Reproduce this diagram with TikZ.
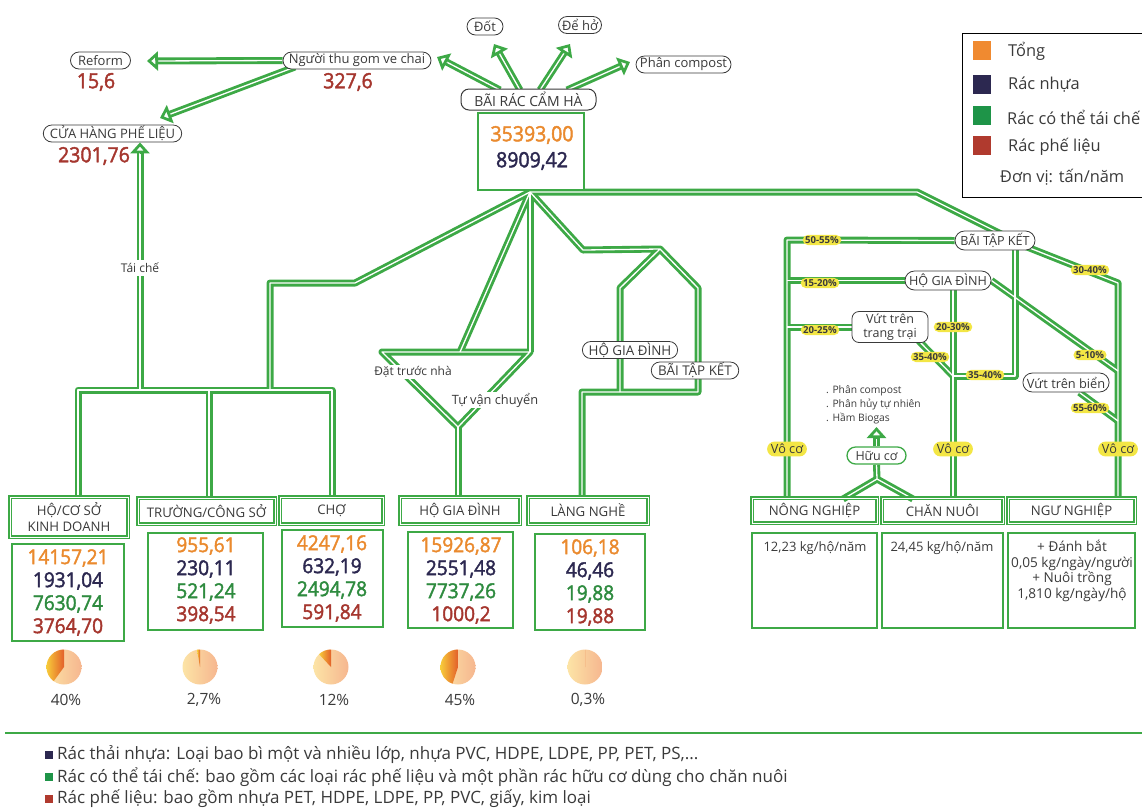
\documentclass[tikz,border=0pt]{standalone}
\usepackage{fontspec}
\setmainfont{Open Sans}
\newfontfamily\numfont{Open Sans}[FakeStretch=0.93,FakeBold=2]
\usetikzlibrary{arrows.meta,shapes.misc,calc}
\pgfdeclarelayer{bg}
\pgfsetlayers{bg,main}
\definecolor{pgreen}{HTML}{3DA946}
\definecolor{porange}{HTML}{EA8A2E}
\definecolor{pnavy}{HTML}{2C2850}
\definecolor{pgtext}{HTML}{2E8B3F}
\definecolor{pred}{HTML}{A5362E}
\definecolor{pyellow}{HTML}{F3E645}
\definecolor{ptext}{HTML}{3A3A3A}
\definecolor{pieL}{HTML}{FCE4A6}
\definecolor{pieR}{HTML}{F6B68F}
\definecolor{wedL}{HTML}{F7CB3A}
\definecolor{wedR}{HTML}{E3602A}
\definecolor{lgorange}{HTML}{F08A30}
\definecolor{lggreen}{HTML}{1E9448}
\definecolor{lgred}{HTML}{B03A2E}
\newcommand\ahead[2]{\draw[headtip] ($(#2)!12pt!(#1)$) -- (#2);}
\newcommand\pieslice[6]{%
  \shade[left color=pieL,right color=pieR] (#2,#3) circle[radius=17.5pt];
  \shade[left color=wedL,right color=wedR] (#2,#3) -- ++(0,-17.5) arc[start angle=-90,end angle={-90-#4},radius=17.5] -- cycle;
  \node[pctxt] (#1) at (#5,{#3+33}) {#6};}
\newcommand\numstack[7]{%
  \node[num,text=porange] (#1a) at (#2,#3) {#4};
  \node[num,text=pnavy] (#1b) at (#2,{#3+23}) {#5};
  \node[num,text=pgtext] (#1c) at (#2,{#3+46}) {#6};
  \node[num,text=pred] (#1d) at (#2,{#3+69}) {#7};}
\newcommand\pipenet[1]{%
  \draw[#1] (nguoi.west) -- ($(tReform)!8pt!(nguoi.west)$);
  \draw[#1] (sN2) -- ($(tCua)!8pt!(sN2)$);
  \draw[#1] (bt) -- ($(tCua2)!8pt!(bt)$);
  \draw[#1] (sB1) -- ($(tNguoi)!8pt!(sB1)$);
  \draw[#1] (sB2) -- ($(tDot)!8pt!(sB2)$);
  \draw[#1] (sB3) -- ($(tDeho)!8pt!(sB3)$);
  \draw[#1] (sB4) -- ($(tComp)!8pt!(sB4)$);
  \draw[#1] (apex) -- (fl1) -- (fl2) -- (fl3);
  \draw[#1] (b1 |- hcs.north) -- (b1) -- (b3) -- (b3 |- cho.north);
  \draw[#1] (b2) -- (b2 |- tcs.north);
  \draw[#1] (apex) -- (tq);
  \draw[#1] (apex) -- (tr);
  \draw[#1] (tl) -- (tr) -- (tb) -- cycle;
  \draw[#1] (tb) -- (tb |- hgd.north);
  \draw[#1] (apex) -- (hs1) -- (hpk) -- (hl1) -- (hl2);
  \draw[#1] (hpk) -- (hr1) -- (hr2) -- (hb0) -- (hb0 |- ln.north);
  \draw[#1] (apex) -- (rr0) -- (d1);
  \draw[#1] (d2) -- (r7) -- (r7 |- ng.north);
  \draw[#1] (btk2.west) -- (r1) -- (r1 |- nn.north);
  \draw[#1] (hgd2.west) -- (hgd2.west -| r1);
  \draw[#1] (tt.west) -- (tt.west -| r1);
  \draw[#1] (r2 |- hgd2.south) -- (r2 |- cn.north);
  \draw[#1] (tts) -- (r3);
  \draw[#1] (r4top) -- (r4) -- (r3);
  \draw[#1] (hgd2.east) -- (r5);
  \draw[#1] (vtb) -- (r6);
  \draw[#1] (hc.north) -- ($(tHc)!6pt!(hc.north)$);
  \draw[#1] (hc.south) -- (hcj) -- (hcl);
  \draw[#1] (hcj) -- (hcr);}
\begin{document}
\begin{tikzpicture}[x=1pt,y=-1pt,
 pipeout/.style={draw=pgreen,line width=7pt,line join=round},
 pipein/.style={draw=white,line width=1.3pt,line join=round},
 headtip/.style={draw=pgreen,line width=0.1pt,-{Triangle[fill=white,length=11pt,width=19pt,line width=3pt]}},
 rl/.style={rounded rectangle,draw=ptext,line width=0.8pt,fill=white,inner xsep=2pt,inner ysep=0pt,minimum height=17pt,text=ptext,font=\fontsize{13}{14}\selectfont},
 bigl/.style={rectangle,rounded corners=8pt,draw=ptext,line width=1pt,fill=white,minimum width=135pt,minimum height=21pt,inner sep=0pt,text=ptext,font=\fontsize{14}{15}\selectfont},
 val/.style={text=pred,inner sep=0pt,font=\numfont\fontsize{21}{22}\selectfont},
 num/.style={inner sep=0pt,font=\numfont\fontsize{20.5}{21}\selectfont},
 catbox/.style={draw=pgreen,line width=1.8pt,double=white,double distance=0.9pt,inner sep=0pt,align=center,text=ptext,font=\fontsize{13.2}{16}\selectfont},
 databox/.style={draw=pgreen,line width=2pt,inner sep=0pt},
 plain/.style={inner sep=1pt,text=ptext,font=\fontsize{12}{13}\selectfont},
 pct/.style={rounded rectangle,fill=pyellow,inner xsep=1pt,inner ysep=1.5pt,text=ptext,font=\bfseries\fontsize{9.6}{10}\selectfont},
 voco/.style={rounded rectangle,fill=pyellow,inner xsep=2pt,inner ysep=2.5pt,text=ptext,font=\fontsize{12.7}{13}\selectfont},
 pctxt/.style={inner sep=0pt,text=ptext,font=\fontsize{15.5}{16}\selectfont},
 lgtext/.style={anchor=west,inner sep=0pt,text=ptext,font=\fontsize{16.4}{18}\selectfont},
 fnt/.style={anchor=west,inner sep=0pt,text=ptext,font=\fontsize{17}{18}\selectfont},
]
\useasboundingbox (0,0) rectangle (1142,807);
% ---------- top ----------
\node[rl,minimum width=64pt] (reform) at (100.5,60.5) {Reform};
\node[val] (vreform) at (96,82) {15,6};
\node[rl,minimum width=152pt] (nguoi) at (357,60.5) {Người thu gom ve chai};
\node[val] (vnguoi) at (348,82) {327,6};
\node[rl,minimum width=137pt] (cuahang) at (112.5,133.5) {CỬA HÀNG PHẾ LIỆU};
\node[val] (vcua) at (94,156) {2301,76};
\node[rl,minimum width=40pt] (dot) at (485,26.5) {Đốt};
\node[rl,minimum width=47pt] (deho) at (580,25) {Để hở};
\node[rl,minimum width=99pt] (compost) at (683.5,64.5) {Phân compost};
\node[bigl] (bairac) at (528.5,99.5) {BÃI RÁC CẨM HÀ};
\node[databox,fill=white,minimum width=106pt,minimum height=77pt] (brbox) at (531,151.5) {};
\node[num,text=porange,font=\numfont\fontsize{21}{22}\selectfont] (brt) at (532,135) {35393,00};
\node[num,text=pnavy,font=\numfont\fontsize{21}{22}\selectfont] (brn) at (532,161) {8909,42};
% ---------- legend ----------
\begin{scope}
\clip (0,0) rectangle (1142,807);
\node[draw=black,line width=1.2pt,minimum width=200pt,minimum height=164pt,anchor=north west,inner sep=0pt] (legend) at (962,33) {};
\node[fill=lgorange,minimum width=18pt,minimum height=19pt,inner sep=0pt] (lg1) at (982,50) {};
\node[fill=pnavy,minimum width=18pt,minimum height=19pt,inner sep=0pt] (lg2) at (982,84) {};
\node[fill=lggreen,minimum width=18pt,minimum height=19pt,inner sep=0pt] (lg3) at (982,115) {};
\node[fill=lgred,minimum width=18pt,minimum height=19pt,inner sep=0pt] (lg4) at (982,145) {};
\node[lgtext] (lt1) at (1008,51) {Tổng};
\node[lgtext] (lt2) at (1008,85) {Rác nhựa};
\node[lgtext] (lt3) at (1007,117) {Rác có thể tái chế};
\node[lgtext] (lt4) at (1008,147) {Rác phế liệu};
\node[lgtext] (lt5) at (1000,177) {Đơn vị: tấn/năm};
\end{scope}
% ---------- left fan labels ----------
\node[plain,fill=white,inner ysep=3pt] (taiche) at (140,268) {Tái chế};
\node[plain,fill=white] (dtn) at (413,372) {Đặt trước nhà};
\node[plain,fill=white,font=\fontsize{12.8}{13}\selectfont] (tvc) at (495,400) {Tự vận chuyển};
\node[rl,font=\fontsize{13.4}{14}\selectfont,minimum width=92pt] (hgd1) at (630,350) {HỘ GIA ĐÌNH};
\node[rl,font=\fontsize{13.4}{14}\selectfont,minimum width=82pt] (btk1) at (695,370.5) {BÃI TẬP KẾT};
% ---------- bottom left boxes ----------
\node[catbox,minimum width=118pt,minimum height=40pt] (hcs) at (69,517) {HỘ/CƠ SỞ\\KINH DOANH};
\node[catbox,minimum width=137pt,minimum height=26pt] (tcs) at (206.5,511) {TRƯỜNG/CÔNG SỞ};
\node[catbox,minimum width=103pt,minimum height=27pt] (cho) at (331.5,510.5) {CHỢ};
\node[catbox,minimum width=120pt,minimum height=27pt] (hgd) at (460,510.5) {HỘ GIA ĐÌNH};
\node[catbox,minimum width=120pt,minimum height=27pt] (ln) at (588,510.5) {LÀNG NGHỀ};
\node[databox,minimum width=112pt,minimum height=97pt] (hcsd) at (68,592.5) {};
\node[databox,minimum width=115pt,minimum height=97pt] (tcsd) at (205.5,581.5) {};
\node[databox,minimum width=101pt,minimum height=97pt] (chod) at (332.5,578.5) {};
\node[databox,minimum width=105pt,minimum height=96pt] (hgdd) at (460.5,580) {};
\node[databox,minimum width=110pt,minimum height=96pt] (lnd) at (590,582) {};
\numstack{hcsn}{68}{558}{14157,21}{1931,04}{7630,74}{3764,70}
\numstack{tcsn}{206}{546}{955,61}{230,11}{521,24}{398,54}
\numstack{chon}{332}{544}{4247,16}{632,19}{2494,78}{591,84}
\numstack{hgdn}{461}{546}{15926,87}{2551,48}{7737,26}{1000,2}
\numstack{lnn}{590}{548}{106,18}{46,46}{19,88}{19,88}
\pieslice{pc1}{64}{667}{144}{66}{40\%}
\pieslice{pc2}{200}{667}{9.7}{204}{2,7\%}
\pieslice{pc3}{331}{667}{43}{334}{12\%}
\pieslice{pc4}{458}{667}{162}{460}{45\%}
\pieslice{pc5}{585}{667}{1.1}{588}{0,3\%}
% ---------- right part ----------
\node[rl,font=\fontsize{12.6}{14}\selectfont,minimum width=84pt,minimum height=19pt] (btk2) at (995,240.5) {BÃI TẬP KẾT};
\node[rl,font=\fontsize{12.6}{14}\selectfont,minimum width=90pt,minimum height=19pt] (hgd2) at (948,280.5) {HỘ GIA ĐÌNH};
\node[rectangle,rounded corners=7pt,draw=ptext,line width=0.8pt,fill=white,minimum width=76pt,minimum height=31pt,inner sep=0pt,align=center,text=ptext,font=\fontsize{12.5}{13.5}\selectfont] (tt) at (890,327) {Vứt trên\\trang trại};
\node[rl,font=\fontsize{12.8}{14}\selectfont,minimum width=84pt,minimum height=19pt] (vtb) at (1066,382.5) {Vứt trên biển};
\node[rl,draw=pgreen,line width=1.3pt,font=\fontsize{12.5}{13}\selectfont,minimum width=63pt] (hc) at (876.5,455.5) {Hữu cơ};
\node[anchor=west,inner sep=0pt,text=ptext,font=\fontsize{10.3}{14}\selectfont,align=left] (hclist) at (826,405) {. Phân compost\\. Phân hủy tự nhiên\\. Hầm Biogas};
\node[pct] (p5055) at (822,240) {50-55\%};
\node[pct] (p1520) at (820,283) {15-20\%};
\node[pct] (p2025) at (820,330) {20-25\%};
\node[pct] (p2030) at (953,327) {20-30\%};
\node[pct] (p3540a) at (930,357) {35-40\%};
\node[pct] (p3540b) at (985,375) {35-40\%};
\node[pct] (p3040) at (1090,270) {30-40\%};
\node[pct] (p510) at (1090,355) {5-10\%};
\node[pct] (p5560) at (1090,408) {55-60\%};
\node[voco] (vc1) at (787,449) {Vô cơ};
\node[voco] (vc2) at (953,449) {Vô cơ};
\node[voco] (vc3) at (1118,449) {Vô cơ};
\node[catbox,minimum width=125pt,minimum height=25pt] (nn) at (814.5,510.5) {NÔNG NGHIỆP};
\node[catbox,minimum width=121pt,minimum height=25pt] (cn) at (942.5,510.5) {CHĂN NUÔI};
\node[catbox,minimum width=127pt,minimum height=25pt] (ng) at (1071.5,510.5) {NGƯ NGHIỆP};
\node[databox,minimum width=125pt,minimum height=95pt] (nnd) at (814.5,580.5) {};
\node[databox,minimum width=121pt,minimum height=95pt] (cnd) at (942.5,580.5) {};
\node[databox,minimum width=127pt,minimum height=95pt] (ngd) at (1071.5,580.5) {};
\node[plain,font=\fontsize{13}{14}\selectfont] (nnt) at (815,548) {12,23 kg/hộ/năm};
\node[plain,font=\fontsize{13}{14}\selectfont] (cnt) at (942,548) {24,45 kg/hộ/năm};
\node[plain,align=center,font=\fontsize{13.6}{15.7}\selectfont] (ngt) at (1072,571) {+ Đánh bắt\\0,05 kg/ngày/người\\+ Nuôi trồng\\1,810 kg/ngày/hộ};
% ---------- footnotes ----------
\draw[draw=pgreen,line width=2pt] (5,733) -- (1142,733);
\node[fill=pnavy,minimum size=8pt,inner sep=0pt] (fs1) at (49,755) {};
\node[fill=lggreen,minimum size=8pt,inner sep=0pt] (fs2) at (49,777) {};
\node[fill=lgred,minimum size=8pt,inner sep=0pt] (fs3) at (49,799) {};
\node[fnt] (ft1) at (57,755) {Rác thải nhựa: Loại bao bì một và nhiều lớp, nhựa PVC, HDPE, LDPE, PP, PET, PS,...};
\node[fnt] (ft2) at (57,777) {Rác có thể tái chế: bao gồm các loại rác phế liệu và một phần rác hữu cơ dùng cho chăn nuôi};
\node[fnt] (ft3) at (57,799) {Rác phế liệu: bao gồm nhựa PET, HDPE, LDPE, PP, PVC, giấy, kim loại};
% ---------- coordinates ----------
\coordinate (tReform) at (147,61);
\coordinate (sN2) at (295,67);
\coordinate (tCua) at (160,118);
\coordinate (bt) at (140,390);
\coordinate (tCua2) at (bt |- cuahang.south);
\coordinate (sB1) at (500,90);
\coordinate (tNguoi) at (437,57);
\coordinate (sB2) at (520,90);
\coordinate (tDot) at (494,44);
\coordinate (sB3) at (540,90);
\coordinate (tDeho) at (570,44);
\coordinate (sB4) at (567,90);
\coordinate (tComp) at (630,62);
\coordinate (apex) at (530,192);
\coordinate (fl1) at (355,283);
\coordinate (fl2) at (270,283);
\coordinate (fl3) at (270,390);
\coordinate (b1) at (78,390);
\coordinate (b2) at (209,390);
\coordinate (b3) at (332,390);
\coordinate (tl) at (382,352);
\coordinate (tr) at (530,352);
\coordinate (tq) at (460,352);
\coordinate (tb) at (458,427);
\coordinate (hs1) at (583,250);
\coordinate (hpk) at (660,249);
\coordinate (hl1) at (620,288);
\coordinate (hl2) at (620,392);
\coordinate (hr1) at (698,288);
\coordinate (hr2) at (698,392);
\coordinate (hb0) at (582,392);
\coordinate (rr0) at (917,192);
\coordinate (d1) at (1005,236);
\coordinate (d2) at (1022,245);
\coordinate (r7) at (1118,283);
\coordinate (r1) at (787,240);
\coordinate (r2) at (953,300);
\coordinate (r3) at (953,376);
\coordinate (r4) at (1015,376);
\coordinate (r4top) at (1015,245);
\coordinate (tts) at (918,340);
\coordinate (r5) at (1118,371);
\coordinate (r6) at (1118,421);
\coordinate (tHc) at (876.5,427);
\coordinate (hcj) at (877,479);
\coordinate (hcl) at (843,499);
\coordinate (hcr) at (913,499);
% ---------- pipes ----------
\begin{pgfonlayer}{bg}
\pipenet{pipeout}
\pipenet{pipein}
\end{pgfonlayer}
% ---------- arrowheads ----------
\ahead{nguoi.west}{tReform}
\ahead{sN2}{tCua}
\ahead{bt}{tCua2}
\ahead{sB1}{tNguoi}
\ahead{sB2}{tDot}
\ahead{sB3}{tDeho}
\ahead{sB4}{tComp}
\ahead{hc.north}{tHc}
\end{tikzpicture}
\end{document}
